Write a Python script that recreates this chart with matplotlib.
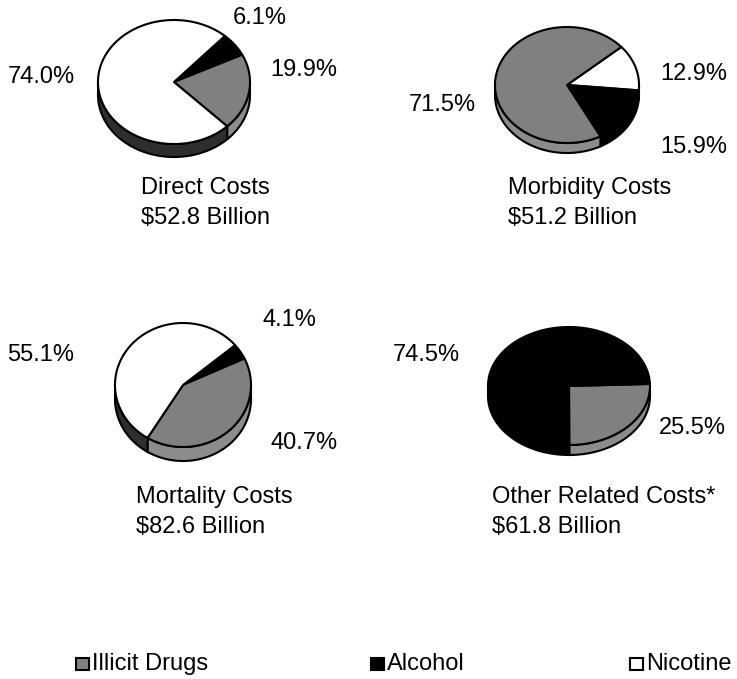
import numpy as np
import matplotlib
matplotlib.use("Agg")
import matplotlib.pyplot as plt
from matplotlib.patches import Polygon, Rectangle

plt.rcParams['font.family'] = ['Liberation Sans', 'DejaVu Sans']

# cost shares (%) for each category
categories = ['Illicit Drugs', 'Alcohol', 'Nicotine']
panel_titles = ['Direct Costs', 'Morbidity Costs', 'Mortality Costs', 'Other Related Costs*']
panel_totals = ['$52.8 Billion', '$51.2 Billion', '$82.6 Billion', '$61.8 Billion']

direct = [19.9, 6.1, 74.0]
morbidity = [71.5, 15.9, 12.9]
mortality = [40.7, 4.1, 55.1]
other = [25.5, 74.5, 0.0]

face = {'Illicit Drugs': '#808080', 'Alcohol': '#000000', 'Nicotine': '#ffffff'}
side = {'Illicit Drugs': '#8c8c8c', 'Alcohol': '#000000', 'Nicotine': '#2e2e2e'}

fig = plt.figure(figsize=(7.37, 6.79), dpi=100)
ax = fig.add_axes([0, 0, 1, 1])
ax.set_xlim(0, 737)
ax.set_ylim(679, 0)
ax.axis('off')


def arc(cx, cy, rx, ry, a0, a1, dy=0.0):
    t = np.deg2rad(np.linspace(a0, a1, max(int(abs(a1 - a0)) * 2, 2)))
    return np.column_stack([cx + rx * np.cos(t), cy - ry * np.sin(t) + dy])


def draw_pie(values, order, cx, cy, rx, ry, depth, start):
    vals = np.array(values, dtype=float)
    frac = vals / vals.sum()
    bounds = start - np.concatenate([[0], np.cumsum(frac)]) * 360
    slices = [(order[i], bounds[i + 1], bounds[i]) for i in range(len(vals)) if vals[i] > 0]

    # side wall, front half only
    for name, lo, hi in slices:
        for k in range(-2, 3):
            a = max(lo, 180 + 360 * k)
            b = min(hi, 360 + 360 * k)
            if b > a:
                top = arc(cx, cy, rx, ry, a, b)
                bot = arc(cx, cy, rx, ry, b, a, depth)
                ax.add_patch(Polygon(np.vstack([top, bot]), closed=True,
                                     facecolor=side[name], edgecolor='black', lw=1.5))

    # top face
    for name, lo, hi in slices:
        pts = arc(cx, cy, rx, ry, hi, lo)
        if hi - lo < 359.9:
            pts = np.vstack([[cx, cy], pts])
        ax.add_patch(Polygon(pts, closed=True, facecolor=face[name],
                             edgecolor='black', lw=1.5, joinstyle='round'))


# slices run clockwise from the start angle
draw_pie([direct[1], direct[0], direct[2]],
         ['Alcohol', 'Illicit Drugs', 'Nicotine'], 174, 82, 76, 62, 13, 48)
draw_pie([morbidity[2], morbidity[1], morbidity[0]],
         ['Nicotine', 'Alcohol', 'Illicit Drugs'], 567, 85, 72, 58, 10, 41)
draw_pie([mortality[1], mortality[0], mortality[2]],
         ['Alcohol', 'Illicit Drugs', 'Nicotine'], 183, 385, 68, 62, 14, 40)
draw_pie([other[0], other[1]],
         ['Illicit Drugs', 'Alcohol'], 569, 386, 81, 59, 10, 2)

fs = 17
pct = dict(fontsize=fs, ha='center', va='center')
ax.text(260, 18, f'{direct[1]:.1f}%', **pct)
ax.text(304, 70, f'{direct[0]:.1f}%', **pct)
ax.text(41, 77, f'{direct[2]:.1f}%', **pct)

ax.text(694, 74, f'{morbidity[2]:.1f}%', **pct)
ax.text(442, 105, f'{morbidity[0]:.1f}%', **pct)
ax.text(694, 147, f'{morbidity[1]:.1f}%', **pct)

ax.text(289, 320, f'{mortality[1]:.1f}%', **pct)
ax.text(41, 355, f'{mortality[2]:.1f}%', **pct)
ax.text(304, 443, f'{mortality[0]:.1f}%', **pct)

ax.text(426, 355, f'{other[1]:.1f}%', **pct)
ax.text(692, 428, f'{other[0]:.1f}%', **pct)

title_pos = [(141, 188), (508, 188), (136, 497), (492, 497)]
for (x, y), t, tot in zip(title_pos, panel_titles, panel_totals):
    ax.text(x, y, t, fontsize=fs, ha='left', va='center')
    ax.text(x, y + 30, tot, fontsize=fs, ha='left', va='center')

# legend
box_x = [76, 371, 630]
for x, name in zip(box_x, categories):
    ax.add_patch(Rectangle((x, 658), 13, 12, facecolor=face[name],
                           edgecolor='black', lw=1.5))
    ax.text(x + 16, 664, name, fontsize=fs, ha='left', va='center')

fig.savefig('out.png', dpi=100)
